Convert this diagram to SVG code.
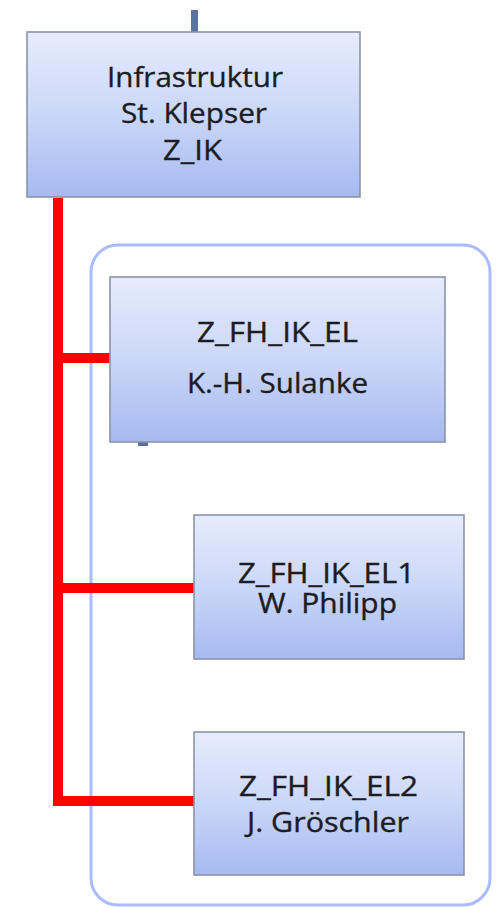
<svg xmlns="http://www.w3.org/2000/svg" width="498" height="908" viewBox="0 0 498 908">
  <defs>
    <linearGradient id="boxFill" x1="0" y1="0" x2="0" y2="1">
      <stop offset="0" stop-color="#e6ecfc"/>
      <stop offset="0.5" stop-color="#cbd7f8"/>
      <stop offset="1" stop-color="#a6baf1"/>
    </linearGradient>
    <style>
      .box { fill: url(#boxFill); stroke: #8b93a6; stroke-width: 1.6; }
      .label { font-family: "Open Sans", "Liberation Sans", sans-serif; font-size: 28px; font-weight: 500; fill: #1c1c22; stroke: #1c1c22; stroke-width: 0.35; text-anchor: middle; }
      .tight { font-size: 27px; }
      .red { fill: none; stroke: #ff0000; stroke-width: 10; stroke-linejoin: miter; stroke-linecap: butt; }
      .frame { fill: none; stroke: #abbbff; stroke-width: 3; }
    </style>
  </defs>

  <rect width="498" height="908" fill="#ffffff"/>

  <!-- group frame around the three sub-units -->
  <rect class="frame" x="91" y="245" width="399" height="660" rx="27" ry="27"/>

  <!-- connectors -->
  <g id="connectors">
    <rect x="191" y="10" width="7" height="22" fill="#5a72a2"/>
    <rect x="138" y="442" width="10" height="4" fill="#5a6fa0"/>
    <path class="red" d="M58 198 V801 H194"/>
    <path class="red" d="M58 358 H110"/>
    <path class="red" d="M58 588 H194"/>
  </g>

  <g id="node-z-ik">
    <rect class="box" x="27" y="32" width="333" height="165"/>
    <text class="label" x="195" y="87" textLength="176" lengthAdjust="spacingAndGlyphs">Infrastruktur</text>
    <text class="label" x="194" y="123" textLength="146" lengthAdjust="spacingAndGlyphs">St. Klepser</text>
    <text class="label" x="192.5" y="160" textLength="59" lengthAdjust="spacingAndGlyphs">Z_IK</text>
  </g>

  <g id="node-z-fh-ik-el">
    <rect class="box" x="110" y="277" width="335" height="165"/>
    <text class="label" x="277.5" y="342" textLength="161" lengthAdjust="spacingAndGlyphs">Z_FH_IK_EL</text>
    <text class="label" x="277.5" y="393" textLength="181" lengthAdjust="spacingAndGlyphs">K.-H. Sulanke</text>
  </g>

  <g id="node-z-fh-ik-el1">
    <rect class="box" x="194" y="515" width="270" height="144"/>
    <text class="label tight" x="326.5" y="583" textLength="177" lengthAdjust="spacingAndGlyphs">Z_FH_IK_EL1</text>
    <text class="label tight" x="327.5" y="613" textLength="139" lengthAdjust="spacingAndGlyphs">W. Philipp</text>
  </g>

  <g id="node-z-fh-ik-el2">
    <rect class="box" x="194" y="732" width="270" height="143"/>
    <text class="label tight" x="328.5" y="796" textLength="179" lengthAdjust="spacingAndGlyphs">Z_FH_IK_EL2</text>
    <text class="label tight" x="328" y="832" textLength="162" lengthAdjust="spacingAndGlyphs">J. Gröschler</text>
  </g>
</svg>
